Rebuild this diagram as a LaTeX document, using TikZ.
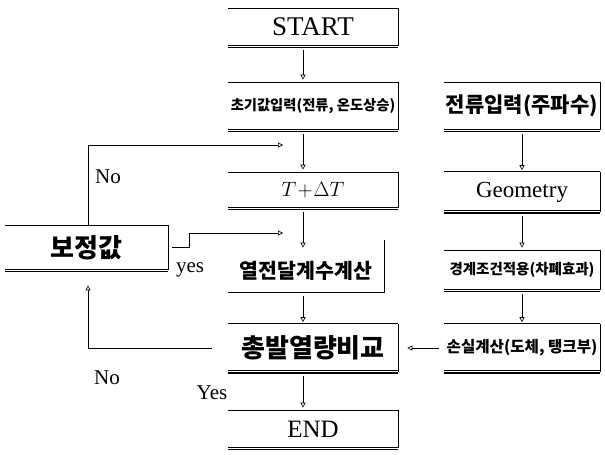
\documentclass[tikz,border=0pt]{standalone}
\usepackage{fontspec}
\setmainfont{Liberation Serif}
\newfontfamily\kr{Noto Sans CJK KR}
\usetikzlibrary{arrows.meta}
\tikzset{
  blk/.style={rectangle, inner sep=0pt, minimum width=#1},
  blk/.default=170pt,
  arr/.style={-{Triangle[open,length=5pt,width=5pt]}, line width=0.6pt, shorten <=4pt, shorten >=2pt},
  lbl/.style={font=\fontsize{21}{21}\selectfont}
}
\begin{document}
\begin{tikzpicture}[x=1pt, y=-1pt, line width=0.6pt]
\useasboundingbox (0,0) rectangle (605,455);
% centre column
\node[blk, minimum height=38pt, font=\fontsize{27}{27}\selectfont] (start) at (313,27) {START};
\node[blk, minimum height=48pt, font=\kr\bfseries\fontsize{14.3}{15}\selectfont] (init) at (313,106) {초기값입력(전류, 온도상승)};
\node[blk, minimum height=36pt, font=\fontsize{22}{22}\selectfont] (dt) at (313,190) {$T\!+\!\Delta T$};
\node[blk=156pt, minimum height=42pt, font=\kr\bfseries\fontsize{20.5}{21}\selectfont] (htc) at (306,271) {열전달계수계산};
\node[blk, minimum height=47pt, font=\kr\bfseries\fontsize{26}{26}\selectfont] (tot) at (313,348) {총발열량비교};
\node[blk, minimum height=38pt, font=\fontsize{25}{25}\selectfont] (fin) at (313,429) {END};
% right column
\node[blk=155pt, minimum height=48pt, font=\kr\bfseries\fontsize{21}{21}\selectfont] (cur) at (522,106) {전류입력(주파수)};
\node[blk=155pt, minimum height=39pt, font=\fontsize{23}{23}\selectfont] (geo) at (522,192) {Geometry};
\node[blk=155pt, minimum height=40pt, font=\kr\bfseries\fontsize{14.5}{15}\selectfont] (bnd) at (522,270) {경계조건적용(차폐효과)};
\node[blk=155pt, minimum height=47pt, font=\kr\bfseries\fontsize{15.6}{16}\selectfont] (loss) at (522,348) {손실계산(도체, 탱크부)};
% correction
\node[blk=163pt, minimum height=45pt, font=\kr\bfseries\fontsize{26}{26}\selectfont] (corr) at (86.5,247.5) {보정값};
\foreach \n in {start,init,dt,tot,fin,cur,geo,bnd,loss,corr}{
  \draw[double, double distance=1.2pt, line width=0.6pt] (\n.north west) -- (\n.north east);
  \draw[double, double distance=1.2pt, line width=1.1pt] (\n.south west) -- (\n.south east);
  \draw (\n.north east) -- (\n.south east);
}
\draw (htc.south west) -- (htc.south east) -- ([yshift=10pt]htc.north east);
% flow
\draw[arr] ([xshift=-10pt]start.south) -- ([xshift=-10pt]init.north);
\draw[arr] ([xshift=-10pt]init.south) -- ([xshift=-10pt]dt.north);
\draw[arr] ([xshift=-10pt]dt.south) -- ([xshift=-3pt]htc.north);
\draw[arr] ([xshift=-3pt]htc.south) -- ([xshift=-10pt]tot.north);
\draw[arr] ([xshift=-10pt]tot.south) -- ([xshift=-10pt]fin.north);
\draw[arr] (cur) -- (geo);
\draw[arr] (geo) -- (bnd);
\draw[arr] (bnd) -- (loss);
\draw[arr, shorten <=5pt, shorten >=9pt] (loss) -- (tot);
\coordinate (noend) at (283,145);
\coordinate (yesend) at (283,233);
\draw[arr, shorten <=0pt, shorten >=0pt] ([xshift=1.5pt]corr.north) |- (noend);
\draw[arr, shorten <=4pt, shorten >=0pt] (corr.east) -- ++(21,0) |- (yesend);
\draw[arr, shorten <=16pt, shorten >=15pt] (tot.west) -| ([xshift=1.5pt]corr.south);
% labels
\node[lbl] (no1) at (108,177) {No};
\node[lbl] (yes1) at (190,270) {yes};
\node[lbl] (no2) at (107,378) {No};
\node[lbl] (yes2) at (212,393) {Yes};
\end{tikzpicture}
\end{document}
